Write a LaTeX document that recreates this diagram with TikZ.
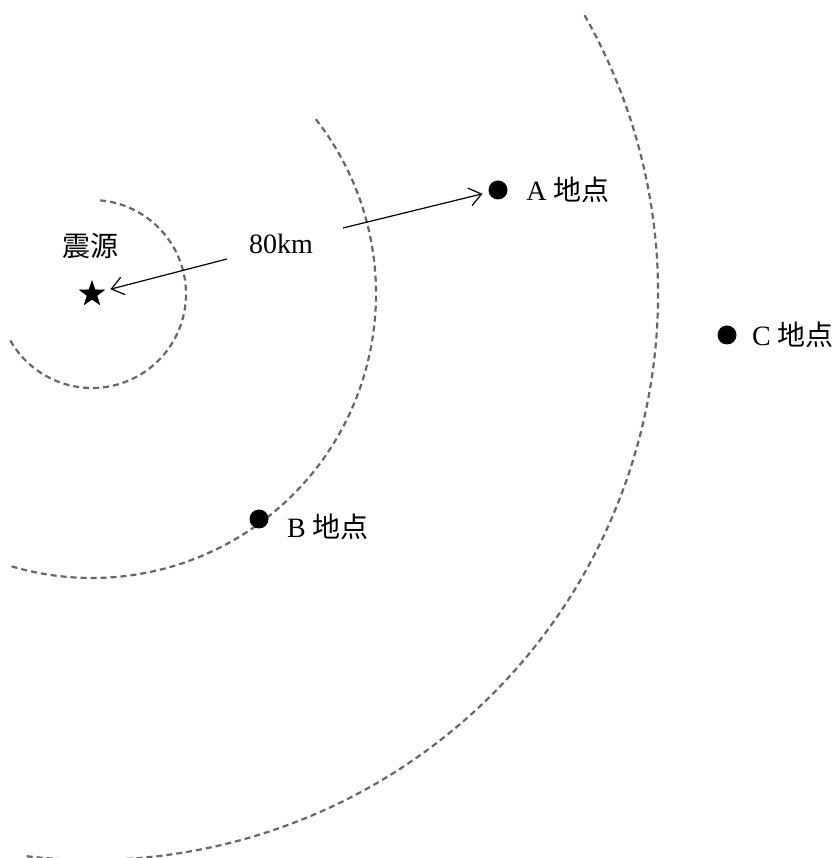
\documentclass[tikz,border=0pt]{standalone}
\usepackage{fontspec}
\setmainfont{Liberation Serif}
\newfontfamily\jp{Noto Sans CJK JP}
\usetikzlibrary{shapes.geometric,arrows.meta,calc}
\begin{document}
\begin{tikzpicture}[x=0.5pt,y=0.5pt,
  wave/.style={draw=black!60,line width=1.1pt,dash pattern=on 3pt off 2pt},
  site/.style={circle,fill=black,inner sep=0pt,minimum size=9.5pt},
  lbl/.style={font=\fontsize{14}{16}\selectfont,inner sep=0pt},
  pointer/.style={-{Straight Barb[length=6pt,width=9pt]},line width=0.6pt}]
\useasboundingbox (0,0) rectangle (836,858);
\node[star,star points=5,star point ratio=2.5,fill=black,inner sep=0pt,minimum size=14pt] (src) at (92,564) {};
\draw[wave] ($(92,564)+(85:94)$) arc[start angle=85,end angle=-151,radius=94];
\draw[wave] ($(92,564)+(38:284)$) arc[start angle=38,end angle=-107,radius=284];
\draw[wave] ($(92,564)+(29.5:566)$) arc[start angle=29.5,end angle=-97,radius=566];
\node[site] (A) at (498,668) {};
\node[site] (B) at (259,339) {};
\node[site] (C) at (727,523) {};
\node[lbl] (la) at (568,668) {A {\jp 地点}};
\node[lbl] (lb) at (328,331) {B {\jp 地点}};
\node[lbl] (lc) at (793,523) {C {\jp 地点}};
\node[lbl] (ls) at (90,612) {\jp 震源};
\node[lbl] (km) at (281,614) {80km};
\coordinate (a1) at (343,630);
\coordinate (a2) at (227,599);
\draw[pointer,shorten >=3] (a1) -- (A);
\draw[pointer,shorten >=3] (a2) -- (src);
\end{tikzpicture}
\end{document}
